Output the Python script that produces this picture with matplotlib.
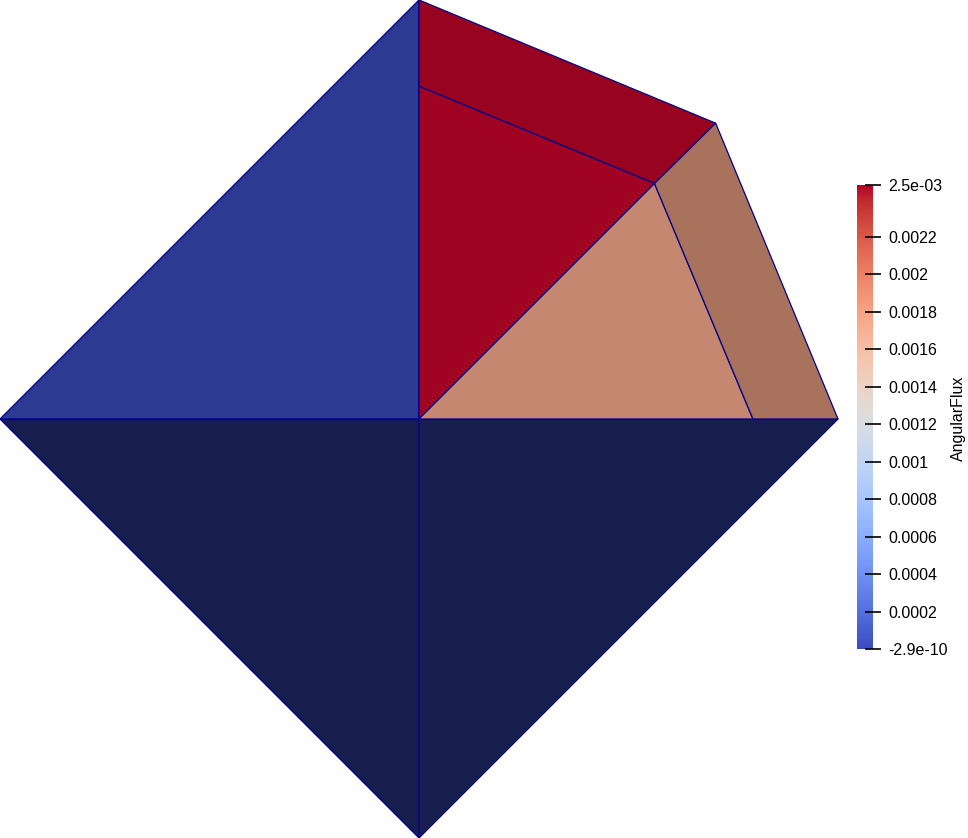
import numpy as np
import matplotlib
matplotlib.use("Agg")
import matplotlib.pyplot as plt
from matplotlib.collections import PolyCollection
from matplotlib.colors import Normalize
from matplotlib.cm import ScalarMappable

# mesh nodes (x, y)
node_x = [0.0, 0.0, -1.0, 0.0, 1.0, 0.708, 0.0, 0.562, 0.797]
node_y = [0.0, 1.0, 0.0, -1.0, 0.0, 0.706, 0.794, 0.562, 0.0]

# cell connectivity
cells = [
    [2, 1, 0],        # upper left
    [2, 0, 3],        # lower left
    [0, 4, 3],        # lower right
    [6, 1, 5, 7],     # top quad
    [0, 6, 7],        # inner upper
    [0, 7, 8],        # inner lower
    [8, 7, 5, 4],     # outer quad
]

# AngularFlux per cell
flux = [0.0, 0.0, 0.0, 0.002477, 0.002477, 0.00176, 0.00177]
# lighting factor per cell (surface seen at different angles)
shade = [0.76, 0.40, 0.40, 0.845, 0.89, 0.80, 0.68]

vmin = -2.9e-10
vmax = 0.002477
tick_vals = [vmin, 0.0002, 0.0004, 0.0006, 0.0008, 0.001, 0.0012,
             0.0014, 0.0016, 0.0018, 0.002, 0.0022, vmax]
tick_labels = ['-2.9e-10', '0.0002', '0.0004', '0.0006', '0.0008', '0.001',
               '0.0012', '0.0014', '0.0016', '0.0018', '0.002', '0.0022',
               '2.5e-03']

plt.rcParams['font.family'] = ['Liberation Sans', 'DejaVu Sans']

cmap = plt.get_cmap('coolwarm')
norm = Normalize(vmin=vmin, vmax=vmax)

fig = plt.figure(figsize=(9.68, 8.38), dpi=100)
ax = fig.add_axes([0, 0, 1, 1])

polys = [[(node_x[i], node_y[i]) for i in c] for c in cells]
colors = cmap(norm(np.array(flux)))
colors[:, :3] *= np.array(shade)[:, None]

pc = PolyCollection(polys, facecolors=colors, edgecolors='#00008b',
                    linewidths=0.9, antialiaseds=True)
ax.add_collection(pc)
ax.set_xlim(-1.0, -1.0 + 968 / 419)
ax.set_ylim(-1.0, 1.0)
ax.axis('off')

cax = fig.add_axes([857 / 968, (838 - 649) / 838, 16 / 968, 464 / 838])
cb = fig.colorbar(ScalarMappable(norm=norm, cmap=cmap), cax=cax)
cb.outline.set_visible(False)
cb.set_ticks(tick_vals)
cb.set_ticklabels(tick_labels)
cax.tick_params(axis='y', direction='inout', length=12, width=1.2,
                pad=5, labelsize=11.5, colors='black')
cax.tick_params(axis='y', which='minor', length=0)

fig.text(958 / 968, (838 - 418) / 838, 'AngularFlux', rotation=90,
         ha='center', va='center', fontsize=11.5)

fig.savefig('out.png', dpi=100)
